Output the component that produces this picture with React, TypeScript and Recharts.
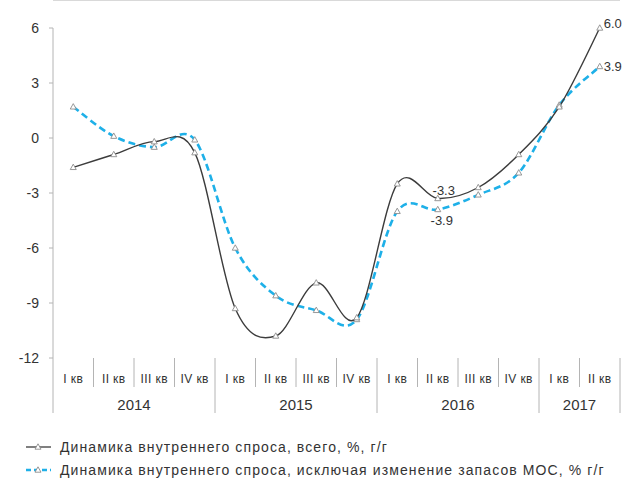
import { LineChart, Line, XAxis, YAxis, ReferenceLine, LabelList } from 'recharts';

if (typeof document !== 'undefined') document.body.style.margin = '0';

const quarters = ['I кв', 'II кв', 'III кв', 'IV кв', 'I кв', 'II кв', 'III кв', 'IV кв', 'I кв', 'II кв', 'III кв', 'IV кв', 'I кв', 'II кв'];
const yearOfQuarter = ['2014', '2014', '2014', '2014', '2015', '2015', '2015', '2015', '2016', '2016', '2016', '2016', '2017', '2017'];
const demandTotal = [-1.6, -0.9, -0.2, -0.8, -9.3, -10.8, -7.9, -9.8, -2.5, -3.3, -2.7, -0.9, 1.7, 6.0];
const demandExInventory = [1.7, 0.1, -0.5, -0.1, -6.0, -8.6, -9.4, -9.9, -4.0, -3.9, -3.1, -1.9, 1.8, 3.9];
const yTicks = [-12, -9, -6, -3, 0, 3, 6];
const labelledIdx = [9, 13];

const seriesNames = [
  'Динамика внутреннего спроса, всего, %, г/г',
  'Динамика внутреннего спроса, исключая изменение запасов МОС, % г/г',
];

const data = quarters.map((q, i) => ({
  key: `${yearOfQuarter[i]}-${i}`,
  q,
  year: yearOfQuarter[i],
  total: demandTotal[i],
  exInv: demandExInventory[i],
}));

const W = 626;
const H = 479;
const LEFT = 53;
const RIGHT = 620;
const TOP = 28;
const BOTTOM = 358;
const BAND = (RIGHT - LEFT) / quarters.length;
const FONT = '"Liberation Sans", Arial, sans-serif';
const AXIS = '#b4b4b4';
const BLUE = '#1eb0e8';
const DARK = '#3c3c3c';

// excel-like smoothing (catmull-rom through every point)
const smooth = (context: any) => {
  let pts: number[][] = [];
  return {
    areaStart() {},
    areaEnd() {},
    lineStart() {
      pts = [];
    },
    point(x: number, y: number) {
      pts.push([+x, +y]);
    },
    lineEnd() {
      if (!pts.length) return;
      context.moveTo(pts[0][0], pts[0][1]);
      for (let i = 0; i < pts.length - 1; i++) {
        const p0 = pts[i - 1] || pts[i];
        const p1 = pts[i];
        const p2 = pts[i + 1];
        const p3 = pts[i + 2] || p2;
        context.bezierCurveTo(
          p1[0] + (p2[0] - p0[0]) / 6,
          p1[1] + (p2[1] - p0[1]) / 6,
          p2[0] - (p3[0] - p1[0]) / 6,
          p2[1] - (p3[1] - p1[1]) / 6,
          p2[0],
          p2[1],
        );
      }
    },
  };
};

const Tri = ({ cx, cy }: { cx: number; cy: number }) => (
  <path
    d={`M${cx},${cy - 3.2} L${cx + 3},${cy + 2.2} L${cx - 3},${cy + 2.2} Z`}
    fill="#fff"
    stroke="#8c8c8c"
    strokeWidth={0.9}
  />
);

const renderDot = (props: any) => <Tri key={`d-${props.index}`} cx={props.cx} cy={props.cy} />;

const QuarterTick = (props: any) => {
  const { x, index } = props;
  const yr = yearOfQuarter[index];
  const yearStart = index === 0 || yearOfQuarter[index - 1] !== yr;
  const last = index === quarters.length - 1;
  const groupLen = yearOfQuarter.filter((v) => v === yr).length;
  const left = x - BAND / 2;
  return (
    <g>
      <line x1={left} x2={left} y1={BOTTOM} y2={yearStart ? 413 : 387} stroke={AXIS} strokeWidth={1} />
      {last && <line x1={x + BAND / 2} x2={x + BAND / 2} y1={BOTTOM} y2={413} stroke={AXIS} strokeWidth={1} />}
      <text x={x} y={383} textAnchor="middle" fontSize={12} letterSpacing={0.4} fontFamily={FONT} fill="#333">
        {quarters[index]}
      </text>
      {yearStart && (
        <text x={left + (groupLen * BAND) / 2} y={410} textAnchor="middle" fontSize={15} fontFamily={FONT} fill="#333">
          {yr}
        </text>
      )}
    </g>
  );
};

const ZeroLine = (props: any) => {
  const { x1, x2, y } = props;
  const yy = y ?? props.y1;
  const band = (x2 - x1) / quarters.length;
  return (
    <g>
      <line x1={x1} x2={x2} y1={yy} y2={yy} stroke={AXIS} strokeWidth={1} />
      {quarters.map((_, i) => (
        <line key={i} x1={x1 + band * (i + 1)} x2={x1 + band * (i + 1)} y1={yy} y2={yy - 4} stroke={AXIS} strokeWidth={1} />
      ))}
    </g>
  );
};

const makeLabel = (dx: number, dy: number, nineDx: number, nineDy: number) => (props: any) => {
  const { x, y, index, value } = props;
  if (!labelledIdx.includes(index)) return null;
  const isLast = index === quarters.length - 1;
  return (
    <text
      x={x + (isLast ? dx : nineDx)}
      y={y + (isLast ? dy : nineDy)}
      textAnchor={isLast ? 'start' : 'middle'}
      dominantBaseline="central"
      fontSize={13}
      fontFamily={FONT}
      fill="#333"
    >
      {Number(value).toFixed(1)}
    </text>
  );
};

const LegendRow = ({ dashed, text, top }: { dashed: boolean; text: string; top: number }) => (
  <div style={{ position: 'absolute', left: 25, top, display: 'flex', alignItems: 'center', height: 18 }}>
    <svg width={28} height={12} style={{ marginRight: 7 }}>
      <line
        x1={1}
        x2={26}
        y1={6}
        y2={6}
        stroke={dashed ? BLUE : DARK}
        strokeWidth={dashed ? 2.5 : 1.3}
        strokeDasharray={dashed ? '5 3' : undefined}
      />
      <Tri cx={13} cy={6} />
    </svg>
    <span style={{ fontFamily: FONT, fontSize: 14, letterSpacing: 1.1, color: '#333', whiteSpace: 'nowrap' }}>{text}</span>
  </div>
);

export default function App() {
  return (
    <div style={{ position: 'relative', width: W, height: H, background: '#fff' }}>
      <LineChart
        width={W}
        height={H}
        data={data}
        margin={{ top: TOP, right: W - RIGHT, left: 0, bottom: H - BOTTOM - 60 }}
      >
        <XAxis
          dataKey="key"
          height={60}
          axisLine={false}
          tickLine={false}
          interval={0}
          padding={{ left: BAND / 2, right: BAND / 2 }}
          tick={<QuarterTick />}
        />
        <YAxis
          width={LEFT}
          domain={[-12, 6]}
          ticks={yTicks}
          interval={0}
          axisLine={{ stroke: AXIS }}
          tickLine={{ stroke: AXIS }}
          tickSize={4}
          tickMargin={10}
          tick={{ fontSize: 14, fontFamily: FONT, fill: '#333' }}
        />
        <ReferenceLine y={0} shape={<ZeroLine />} />
        <Line
          dataKey="exInv"
          type={smooth as any}
          stroke={BLUE}
          strokeWidth={2.6}
          strokeDasharray="7 4"
          dot={renderDot}
          isAnimationActive={false}
        >
          <LabelList dataKey="exInv" content={makeLabel(4, 0, 4, 11)} />
        </Line>
        <Line
          dataKey="total"
          type={smooth as any}
          stroke={DARK}
          strokeWidth={1.4}
          dot={renderDot}
          isAnimationActive={false}
        >
          <LabelList dataKey="total" content={makeLabel(4, -5, 6, -8)} />
        </Line>
      </LineChart>
      <LegendRow dashed={false} text={seriesNames[0]} top={438} />
      <LegendRow dashed={true} text={seriesNames[1]} top={461} />
    </div>
  );
}
